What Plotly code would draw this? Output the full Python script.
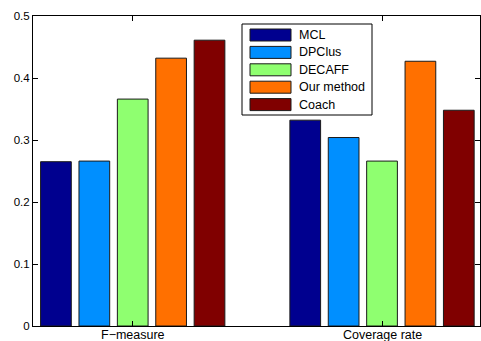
import plotly.graph_objects as go

# Data
categories = ["F−measure", "Coverage rate"]
methods = ["MCL", "DPClus", "DECAFF", "Our method", "Coach"]
mcl = [0.265, 0.332]
dpclus = [0.266, 0.304]
decaff = [0.366, 0.266]
our_method = [0.432, 0.427]
coach = [0.461, 0.348]
series = [mcl, dpclus, decaff, our_method, coach]
colors = ["#00008F", "#008FFF", "#8FFF70", "#FF7000", "#800000"]
y_ticks = [0, 0.1, 0.2, 0.3, 0.4, 0.5]
y_tick_labels = ["0", "0.1", "0.2", "0.3", "0.4", "0.5"]

W, H = 481, 341
ML, MR, MT, MB = 33, 1, 16, 15
PW, PH = W - ML - MR, H - MT - MB
FONT = "Liberation Sans, Arial, Helvetica, sans-serif"


def px_x(px):
    return (px - ML) / PW


def px_y(py):
    return (H - MB - py) / PH


fig = go.Figure()
for name, vals, col in zip(methods, series, colors):
    fig.add_trace(go.Bar(
        x=categories, y=vals, name=name,
        marker=dict(color=col, line=dict(color="#1a1a1a", width=1)),
        showlegend=False,
    ))

# Boxed legend with wide swatches
shapes = [dict(type="rect", xref="paper", yref="paper",
               x0=px_x(242), x1=px_x(372), y0=px_y(115), y1=px_y(24),
               line=dict(color="black", width=1), fillcolor="white", layer="above")]
annotations = []
for i, (name, col) in enumerate(zip(methods, colors)):
    cy = 35 + i * 17.4
    shapes.append(dict(type="rect", xref="paper", yref="paper",
                       x0=px_x(250), x1=px_x(291), y0=px_y(cy + 6), y1=px_y(cy - 6),
                       line=dict(color="#1a1a1a", width=1), fillcolor=col, layer="above"))
    annotations.append(dict(text=name, xref="paper", yref="paper",
                            x=px_x(297), y=px_y(cy), xanchor="left", yanchor="middle",
                            showarrow=False, font=dict(size=12.5, color="black", family=FONT)))

# Category labels just under the axis
for cat in categories:
    annotations.append(dict(text=cat, xref="x", yref="paper", x=cat, y=px_y(334.5),
                            xanchor="center", yanchor="middle", showarrow=False,
                            font=dict(size=12.5, color="black", family=FONT)))

fig.update_layout(
    width=W, height=H,
    margin=dict(l=ML, r=MR, t=MT, b=MB),
    paper_bgcolor="white", plot_bgcolor="white",
    barmode="group", bargap=0.23, bargroupgap=0.2,
    font=dict(family=FONT, color="black"),
    shapes=shapes, annotations=annotations,
    showlegend=False,
)
fig.update_xaxes(
    range=[-0.4, 1.393], showline=True, linecolor="black", linewidth=1, mirror="ticks",
    ticks="inside", ticklen=5, tickcolor="black", showgrid=False,
    showticklabels=False, automargin=False,
)
fig.update_yaxes(
    range=[0, 0.5], tickvals=y_ticks, ticktext=y_tick_labels,
    showline=True, linecolor="black", linewidth=1, mirror="ticks",
    ticks="inside", ticklen=5, tickcolor="black", showgrid=False, zeroline=False,
    tickfont=dict(size=11.5, family=FONT, color="black"), automargin=False,
)

fig.write_html("out.html")
